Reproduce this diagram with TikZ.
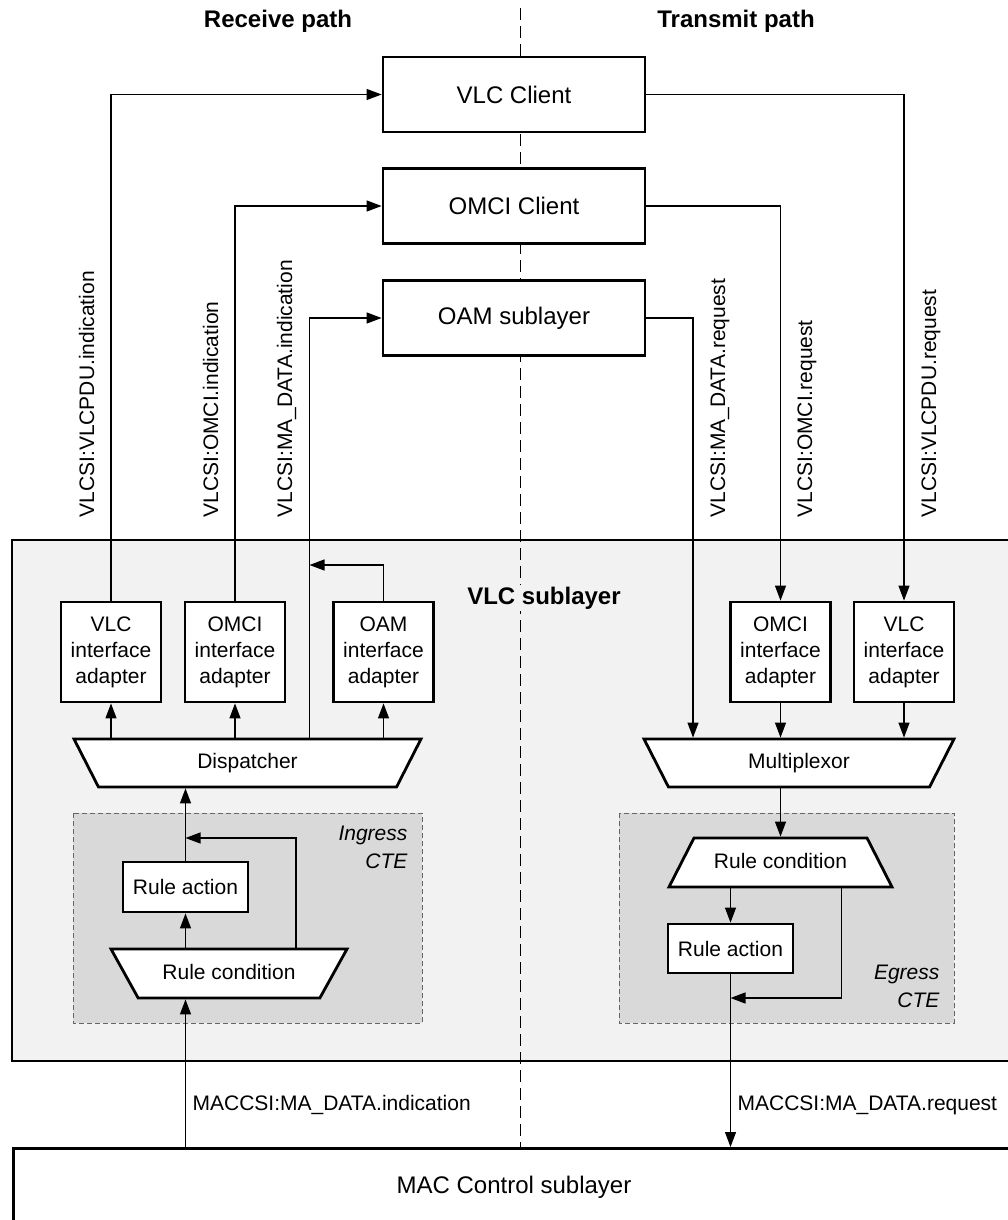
\documentclass[tikz,border=0pt]{standalone}
\usepackage{fontspec}
\setmainfont{Liberation Sans}
\usepackage{tikz}
\usetikzlibrary{shapes.geometric}
\usetikzlibrary{arrows.meta}

\definecolor{sublayergray}{HTML}{F2F2F2}
\definecolor{ctegray}{HTML}{D9D9D9}

\begin{document}
\begin{tikzpicture}
		[x=1pt, y=-1pt, line width=1.2pt, >={Triangle[length=15pt, width=11pt]},
		font=\fontsize{21}{26}\selectfont,
		client/.style = {draw, line width=2.8pt, fill=white, minimum width=262, minimum height=75, font=\fontsize{24}{29}\selectfont},
		adapter/.style = {draw, line width=2.8pt, fill=white, minimum width=100, minimum height=100, align=center, inner sep=0},
		rule/.style = {draw, line width=2.8pt, fill=white, minimum width=125, minimum height=50},
		funnel/.style = {draw, line width=2.8pt, fill=white, trapezium, trapezium stretches body, text height=15.5, text depth=4.5, inner ysep=14},
		cte/.style = {fill=ctegray, draw=black!60, line width=1pt, dash pattern=on 5pt off 3pt},
		sig/.style = {rotate=90, anchor=base west, inner sep=0},
		head/.style = {anchor=base, font=\fontsize{24}{29}\selectfont\bfseries}]

        \useasboundingbox (0,0) rectangle (1007,1220);
        \draw[line width=2.8pt, fill=sublayergray] (12,540) rectangle (1020,1061);
        \draw[line width=1pt, dash pattern=on 12pt off 6pt] (520,8) -- (520,1147);
        \draw[cte] (73,813) rectangle (422,1023);
        \draw[cte] (619,813) rectangle (954,1023);

        \node[head] (rx) at (278,28) {Receive path};
        \node[head] (tx) at (736,28) {Transmit path};
        \node[head, fill=sublayergray, inner sep=2] (sub) at (544,604) {VLC sublayer};

        \node[draw, line width=2.8pt, fill=white, minimum width=1008, minimum height=100, anchor=north west] (mac) at (12,1147) {};
        \node[anchor=base, font=\fontsize{24}{29}\selectfont] (mactxt) at (514,1193) {MAC Control sublayer};

        \node[client] (vlccl) at (514,94.5) {VLC Client};
        \node[client] (omcicl) at (514,206) {OMCI Client};
        \node[client] (oam) at (514,318) {OAM sublayer};

        \node[adapter] (vlcin) at (111,652) {VLC\\interface\\adapter};
        \node[adapter] (omciin) at (235,652) {OMCI\\interface\\adapter};
        \node[adapter] (oamin) at (383.5,652) {OAM\\interface\\adapter};
        \node[adapter] (omciout) at (780.5,652) {OMCI\\interface\\adapter};
        \node[adapter] (vlcout) at (904,652) {VLC\\interface\\adapter};

        \node[funnel, minimum width=347, trapezium left angle=117, trapezium right angle=117] (disp) at (247.5,763) {Dispatcher};
        \node[funnel, minimum width=310, trapezium left angle=117, trapezium right angle=117] (mux) at (799,763) {Multiplexor};

        \node[rule] (ira) at (185.5,887) {Rule action};
        \node[funnel, inner ysep=14.5, minimum width=236, trapezium left angle=119, trapezium right angle=119] (irc) at (229,973.5) {Rule condition};
        \node[funnel, inner ysep=14.5, minimum width=223, trapezium left angle=63, trapezium right angle=63] (erc) at (780.5,862.5) {Rule condition};
        \node[rule, minimum height=49] (era) at (730.5,948.5) {Rule action};

        \node[anchor=north east, align=right, inner sep=0, font=\itshape\fontsize{21}{28}\selectfont] (ingress) at (408,825) {Ingress\\CTE};
        \node[anchor=north east, align=right, inner sep=0, font=\itshape\fontsize{21}{28}\selectfont] (egress) at (940,964) {Egress\\CTE};

        \coordinate (oamjoin) at (309.5,565);
        \coordinate (ijoin) at (ira.north |- 0,838);
        \coordinate (ejoin) at (era.south |- 0,998);

        \draw[->] (vlcin.north) |- (vlccl.west);
        \draw[->] (omciin.north) |- (omcicl.west);
        \draw[->] ([xshift=62]disp.north) |- (oam.west);
        \draw[->] (oamin.north) |- (oamjoin);
        \draw[->] (vlccl.east) -| (vlcout.north);
        \draw[->] (omcicl.east) -| (omciout.north);
        \draw[->] (oam.east) -| ([xshift=-106]mux.north);
        \foreach \a in {vlcin, omciin, oamin}
            \draw[->] (\a.south |- disp.north) -- (\a.south);
        \foreach \a in {omciout, vlcout}
            \draw[->] (\a.south) -- (\a.south |- mux.north);

        \draw[->] (ira.south |- mac.north) -- (ira.south |- irc.south);
        \draw[->] (ira.south |- irc.north) -- (ira.south);
        \draw[->] ([xshift=67]irc.north) |- (ijoin);
        \draw[->] (ira.north) -- (ira.north |- disp.south);

        \draw[->] (erc.north |- mux.south) -- (erc.north);
        \draw[->] (era.north |- erc.south) -- (era.north);
        \draw[->] ([xshift=61]erc.south) |- (ejoin);
        \draw[->] (era.south) -- (era.south |- mac.north);

        \node[sig] (s1) at (94,518) {VLCSI:VLCPDU.indication};
        \node[sig] (s2) at (218,518) {VLCSI:OMCI.indication};
        \node[sig] (s3) at (292,518) {VLCSI:MA\_DATA.indication};
        \node[sig] (s4) at (725,518) {VLCSI:MA\_DATA.request};
        \node[sig] (s5) at (812,518) {VLCSI:OMCI.request};
        \node[sig] (s6) at (936,518) {VLCSI:VLCPDU.request};
        \node[anchor=base west, inner sep=0] (m1) at (192,1110) {MACCSI:MA\_DATA.indication};
        \node[anchor=base west, inner sep=0] (m2) at (737,1110) {MACCSI:MA\_DATA.request};
	\end{tikzpicture}
\end{document}
